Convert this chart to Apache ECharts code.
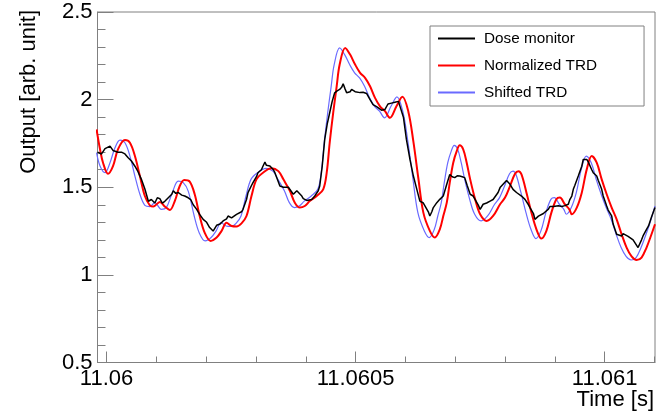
<!DOCTYPE html>
<html>
<head>
<meta charset="utf-8">
<script src="https://cdn.jsdelivr.net/npm/echarts@6/dist/echarts.min.js"></script>
<style>
  html, body { margin: 0; padding: 0; background: #fff; }
  #chart { width: 667px; height: 415px; }
</style>
</head>
<body>
<div id="chart"></div>
<script>
// time in seconds, output in arb. unit
const doseTime = [
  11.059982, 11.059990, 11.059997, 11.060007, 11.060013, 11.060017, 11.060023, 11.060030, 11.060037, 11.060043,
  11.060050, 11.060057, 11.060063, 11.060070, 11.060077, 11.060084, 11.060090, 11.060097, 11.060102, 11.060107,
  11.060112, 11.060117, 11.060124, 11.060131, 11.060134, 11.060139, 11.060144, 11.060151, 11.060157, 11.060164,
  11.060169, 11.060174, 11.060181, 11.060187, 11.060194, 11.060201, 11.060207, 11.060214, 11.060221, 11.060228,
  11.060234, 11.060241, 11.060244, 11.060251, 11.060254, 11.060261, 11.060264, 11.060271, 11.060274, 11.060281,
  11.060284, 11.060291, 11.060294, 11.060301, 11.060304, 11.060311, 11.060314, 11.060318, 11.060321, 11.060324,
  11.060328, 11.060335, 11.060338, 11.060345, 11.060348, 11.060355, 11.060358, 11.060365, 11.060368, 11.060375,
  11.060382, 11.060385, 11.060392, 11.060395, 11.060402, 11.060405, 11.060412, 11.060418, 11.060425, 11.060428,
  11.060433, 11.060438, 11.060443, 11.060448, 11.060453, 11.060458, 11.060463, 11.060468, 11.060472, 11.060475,
  11.060479, 11.060482, 11.060485, 11.060489, 11.060492, 11.060495, 11.060499, 11.060502, 11.060509, 11.060515,
  11.060522, 11.060525, 11.060529, 11.060535, 11.060542, 11.060545, 11.060552, 11.060559, 11.060565, 11.060572,
  11.060579, 11.060586, 11.060589, 11.060596, 11.060602, 11.060609, 11.060616, 11.060622, 11.060629, 11.060636,
  11.060639, 11.060646, 11.060649, 11.060653, 11.060656, 11.060659, 11.060663, 11.060669, 11.060676, 11.060683,
  11.060689, 11.060694, 11.060699, 11.060704, 11.060709, 11.060714, 11.060719, 11.060724, 11.060730, 11.060736,
  11.060740, 11.060746, 11.060750, 11.060756, 11.060763, 11.060770, 11.060776, 11.060780, 11.060786, 11.060790,
  11.060796, 11.060800, 11.060803, 11.060810, 11.060816, 11.060823, 11.060827, 11.060833, 11.060840, 11.060847,
  11.060850, 11.060857, 11.060860, 11.060867, 11.060870, 11.060877, 11.060880, 11.060887, 11.060890, 11.060897,
  11.060900, 11.060907, 11.060914, 11.060920, 11.060927, 11.060930, 11.060934, 11.060937, 11.060940, 11.060947,
  11.060954, 11.060957, 11.060964, 11.060967, 11.060970, 11.060974, 11.060977, 11.060984, 11.060987, 11.060994,
  11.060997, 11.061004, 11.061007, 11.061014, 11.061017, 11.061024, 11.061027, 11.061034, 11.061037, 11.061041,
  11.061047, 11.061051, 11.061057, 11.061061, 11.061067, 11.061074, 11.061077, 11.061084, 11.061088, 11.061094,
  11.061101
];
const doseValue = [
  1.70, 1.69, 1.72, 1.735, 1.71, 1.72, 1.70, 1.70, 1.69, 1.67,
  1.65, 1.62, 1.59, 1.545, 1.49, 1.42, 1.43, 1.41, 1.44, 1.435,
  1.41, 1.42, 1.44, 1.46, 1.48, 1.465, 1.47, 1.455, 1.45, 1.44,
  1.43, 1.40, 1.374, 1.345, 1.317, 1.30, 1.27, 1.25, 1.283, 1.29,
  1.308, 1.32, 1.336, 1.325, 1.327, 1.345, 1.35, 1.36, 1.374, 1.43,
  1.469, 1.51, 1.526, 1.56, 1.583, 1.60, 1.62, 1.643, 1.625, 1.635,
  1.621, 1.60, 1.583, 1.53, 1.507, 1.50, 1.50, 1.50, 1.49, 1.46,
  1.48, 1.488, 1.45, 1.435, 1.425, 1.421, 1.43, 1.45, 1.48, 1.507,
  1.62, 1.773, 1.86, 1.925, 1.99, 2.039, 2.05, 2.058, 2.07, 2.09,
  2.06, 2.039, 2.05, 2.045, 2.058, 2.055, 2.045, 2.048, 2.04, 2.042,
  2.035, 2.039, 2.00, 1.972, 1.96, 1.953, 1.94, 1.944, 1.975, 1.98,
  1.985, 1.99, 2.00, 1.90, 1.773, 1.66, 1.564, 1.498, 1.421, 1.41,
  1.403, 1.36, 1.336, 1.36, 1.384, 1.39, 1.412, 1.431, 1.45, 1.517,
  1.573, 1.56, 1.555, 1.565, 1.564, 1.56, 1.555, 1.51, 1.46, 1.45,
  1.441, 1.40, 1.374, 1.403, 1.41, 1.421, 1.43, 1.441, 1.47, 1.498,
  1.517, 1.52, 1.539, 1.517, 1.488, 1.47, 1.469, 1.45, 1.431, 1.40,
  1.384, 1.35, 1.317, 1.335, 1.346, 1.35, 1.355, 1.375, 1.39, 1.39,
  1.39, 1.395, 1.39, 1.395, 1.403, 1.43, 1.45, 1.488, 1.51, 1.564,
  1.62, 1.659, 1.659, 1.645, 1.64, 1.60, 1.583, 1.564, 1.54, 1.488,
  1.45, 1.393, 1.37, 1.336, 1.29, 1.232, 1.225, 1.222, 1.235, 1.232,
  1.22, 1.213, 1.20, 1.194, 1.156, 1.20, 1.222, 1.26, 1.279, 1.33,
  1.384
];

const trdTime = [
  11.059980, 11.059987, 11.059993, 11.060003, 11.060013, 11.060023, 11.060037, 11.060047, 11.060057, 11.060067,
  11.060077, 11.060087, 11.060094, 11.060107, 11.060117, 11.060127, 11.060137, 11.060147, 11.060156, 11.060167,
  11.060177, 11.060187, 11.060197, 11.060209, 11.060221, 11.060231, 11.060241, 11.060251, 11.060261, 11.060271,
  11.060281, 11.060291, 11.060301, 11.060314, 11.060331, 11.060345, 11.060355, 11.060368, 11.060378, 11.060388,
  11.060398, 11.060408, 11.060422, 11.060435, 11.060442, 11.060448, 11.060455, 11.060462, 11.060468, 11.060479,
  11.060489, 11.060499, 11.060509, 11.060519, 11.060529, 11.060539, 11.060549, 11.060559, 11.060569, 11.060582,
  11.060594, 11.060606, 11.060616, 11.060626, 11.060636, 11.060649, 11.060659, 11.060669, 11.060676, 11.060683,
  11.060689, 11.060696, 11.060703, 11.060709, 11.060716, 11.060723, 11.060730, 11.060740, 11.060750, 11.060763,
  11.060776, 11.060790, 11.060800, 11.060810, 11.060820, 11.060827, 11.060833, 11.060843, 11.060853, 11.060863,
  11.060873, 11.060883, 11.060893, 11.060903, 11.060910, 11.060920, 11.060929, 11.060934, 11.060944, 11.060954,
  11.060964, 11.060974, 11.060984, 11.060994, 11.061004, 11.061014, 11.061024, 11.061034, 11.061044, 11.061054,
  11.061064, 11.061074, 11.061084, 11.061094, 11.061101
];
const trdValue = [
  1.83, 1.716, 1.64, 1.577, 1.621, 1.716, 1.769, 1.754, 1.678, 1.564,
  1.45, 1.397, 1.39, 1.416, 1.39, 1.37, 1.421, 1.507, 1.541, 1.532,
  1.46, 1.336, 1.241, 1.194, 1.213, 1.251, 1.298, 1.279, 1.276, 1.294,
  1.336, 1.45, 1.545, 1.583, 1.608, 1.592, 1.545, 1.48, 1.412, 1.384,
  1.393, 1.421, 1.45, 1.488, 1.583, 1.754, 1.925, 2.076, 2.2, 2.295,
  2.257, 2.2, 2.153, 2.124, 2.076, 2.01, 1.962, 1.934, 1.896, 1.962,
  2.016, 1.93, 1.76, 1.55, 1.355, 1.251, 1.213, 1.26, 1.336, 1.412,
  1.526, 1.64, 1.706, 1.739, 1.716, 1.64, 1.545, 1.431, 1.346, 1.308,
  1.336, 1.403, 1.441, 1.507, 1.577, 1.592, 1.573, 1.469, 1.355, 1.26,
  1.207, 1.251, 1.355, 1.431, 1.441, 1.403, 1.374, 1.346, 1.384, 1.469,
  1.602, 1.678, 1.64, 1.545, 1.46, 1.384, 1.317, 1.232, 1.156, 1.105,
  1.085, 1.099, 1.156, 1.232, 1.289
];

const shiftTime = [
  11.059980, 11.059987, 11.059997, 11.060007, 11.060017, 11.060027, 11.060037, 11.060047, 11.060057, 11.060067,
  11.060077, 11.060087, 11.060097, 11.060110, 11.060120, 11.060131, 11.060144, 11.060154, 11.060164, 11.060176,
  11.060186, 11.060198, 11.060210, 11.060220, 11.060230, 11.060240, 11.060250, 11.060260, 11.060270, 11.060280,
  11.060290, 11.060303, 11.060320, 11.060334, 11.060344, 11.060357, 11.060367, 11.060377, 11.060387, 11.060397,
  11.060411, 11.060424, 11.060431, 11.060437, 11.060444, 11.060451, 11.060457, 11.060468, 11.060478, 11.060488,
  11.060498, 11.060508, 11.060518, 11.060528, 11.060538, 11.060548, 11.060558, 11.060571, 11.060583, 11.060595,
  11.060605, 11.060615, 11.060625, 11.060638, 11.060648, 11.060658, 11.060665, 11.060672, 11.060678, 11.060685,
  11.060692, 11.060698, 11.060705, 11.060712, 11.060719, 11.060729, 11.060739, 11.060752, 11.060765, 11.060779,
  11.060789, 11.060799, 11.060809, 11.060816, 11.060822, 11.060832, 11.060842, 11.060852, 11.060862, 11.060872,
  11.060882, 11.060892, 11.060899, 11.060909, 11.060918, 11.060923, 11.060933, 11.060943, 11.060953, 11.060963,
  11.060973, 11.060983, 11.060993, 11.061003, 11.061013, 11.061023, 11.061033, 11.061043, 11.061053, 11.061063,
  11.061073, 11.061083, 11.061090, 11.061101
];
const shiftValue = [
  1.697, 1.621, 1.583, 1.64, 1.725, 1.769, 1.754, 1.678, 1.564, 1.46,
  1.397, 1.39, 1.412, 1.374, 1.384, 1.46, 1.535, 1.526, 1.478, 1.336,
  1.241, 1.194, 1.213, 1.251, 1.298, 1.279, 1.276, 1.294, 1.336, 1.45,
  1.545, 1.583, 1.608, 1.592, 1.545, 1.48, 1.412, 1.384, 1.393, 1.421,
  1.45, 1.488, 1.583, 1.754, 1.925, 2.076, 2.2, 2.295, 2.257, 2.2,
  2.153, 2.124, 2.076, 2.01, 1.962, 1.934, 1.896, 1.962, 2.016, 1.93,
  1.76, 1.55, 1.355, 1.251, 1.213, 1.26, 1.336, 1.412, 1.526, 1.64,
  1.706, 1.739, 1.716, 1.64, 1.545, 1.431, 1.346, 1.308, 1.336, 1.403,
  1.441, 1.507, 1.577, 1.592, 1.573, 1.469, 1.355, 1.26, 1.207, 1.251,
  1.355, 1.431, 1.441, 1.403, 1.374, 1.346, 1.384, 1.469, 1.602, 1.678,
  1.64, 1.545, 1.46, 1.384, 1.317, 1.232, 1.156, 1.105, 1.085, 1.099,
  1.156, 1.232, 1.289, 1.393
];

const xMajorTicks = [11.06, 11.0605, 11.061];
const xMinorTicks = [11.0601, 11.0602, 11.0603, 11.0604, 11.0606, 11.0607, 11.0608, 11.0609, 11.0611];

const FONT = '"Liberation Sans", Arial, sans-serif';
const AXIS_GRAY = '#808080';
const X_MIN = 11.0599819;
const X_MAX = 11.061101;

function pairs(t, v) {
  return t.map((x, i) => [x, v[i]]);
}

const chart = echarts.init(document.getElementById('chart'), null, { renderer: 'canvas' });

const option = {
  animation: false,
  backgroundColor: '#fff',
  grid: {
    left: 97.5, top: 12, right: 12, bottom: 52.5,
    show: true, borderColor: AXIS_GRAY, borderWidth: 1,
    outerBoundsMode: 'none'
  },
  legend: {
    orient: 'vertical',
    left: 430, top: 26,
    data: ['Dose monitor', 'Normalized TRD', 'Shifted TRD'],
    itemWidth: 37, itemHeight: 14, itemGap: 12,
    padding: [5, 47, 6, 7],
    borderColor: AXIS_GRAY, borderWidth: 1, borderRadius: 0,
    backgroundColor: '#fff',
    // hide the symbol in the legend icon, keep the line sample
    itemStyle: { color: 'transparent', borderColor: 'transparent', borderWidth: 0 },
    textStyle: { fontFamily: FONT, fontSize: 15.3, color: '#000', padding: [0, 0, 0, 4] }
  },
  xAxis: [{
    type: 'value', min: X_MIN, max: X_MAX,
    axisLine: { lineStyle: { color: AXIS_GRAY, width: 1 } },
    axisTick: { inside: true, length: 11, customValues: xMajorTicks, lineStyle: { color: AXIS_GRAY } },
    axisLabel: {
      customValues: xMajorTicks,
      fontFamily: FONT, fontSize: 22, color: '#000', margin: 5,
      formatter: v => String(parseFloat(v.toFixed(4)))
    },
    splitLine: { show: false }
  }, {
    type: 'value', min: X_MIN, max: X_MAX, position: 'bottom',
    axisLine: { show: false },
    axisTick: { inside: true, length: 6, customValues: xMinorTicks, lineStyle: { color: AXIS_GRAY } },
    axisLabel: { show: false },
    splitLine: { show: false }
  }],
  yAxis: {
    type: 'value', min: 0.5, max: 2.5, interval: 0.5,
    axisLine: { show: true, lineStyle: { color: AXIS_GRAY, width: 1 } },
    axisTick: { show: true, inside: true, length: 16, lineStyle: { color: AXIS_GRAY } },
    minorTick: { show: true, splitNumber: 5, length: 8, lineStyle: { color: AXIS_GRAY } },
    axisLabel: { fontFamily: FONT, fontSize: 22, color: '#000', margin: 5 },
    splitLine: { show: false }
  },
  graphic: [
    {
      type: 'text', x: 29, y: 10, rotation: Math.PI / 2,
      style: { text: 'Output [arb. unit]', font: '22px ' + FONT, fill: '#000', align: 'right', verticalAlign: 'middle' }
    },
    {
      type: 'text', x: 654, y: 400,
      style: { text: 'Time [s]', font: '22px ' + FONT, fill: '#000', align: 'right', verticalAlign: 'middle' }
    }
  ],
  series: [
    {
      name: 'Dose monitor', type: 'line', z: 4,
      data: pairs(doseTime, doseValue),
      symbol: 'none', color: '#000',
      lineStyle: { color: '#000', width: 1.5 }
    },
    {
      name: 'Normalized TRD', type: 'line', z: 3,
      data: pairs(trdTime, trdValue),
      symbol: 'none', smooth: 0.35, color: '#ff0000',
      lineStyle: { color: '#ff0000', width: 2 }
    },
    {
      name: 'Shifted TRD', type: 'line', z: 2,
      data: pairs(shiftTime, shiftValue),
      symbol: 'none', smooth: 0.35, color: '#6a6aff',
      lineStyle: { color: '#6a6aff', width: 1.2 }
    }
  ]
};

chart.setOption(option);
</script>
</body>
</html>
